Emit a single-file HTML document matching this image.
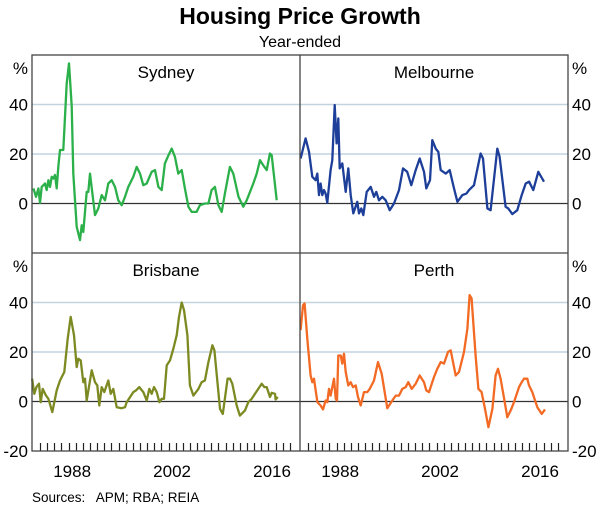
<!DOCTYPE html>
<html><head><meta charset="utf-8"><style>
body{margin:0;background:#fff;}
svg text{font-family:"Liberation Sans",Arial,sans-serif;fill:#000;}
</style></head><body>
<svg id="chart" width="600" height="511" viewBox="0 0 600 511" xmlns="http://www.w3.org/2000/svg">
<text x="300" y="24" font-size="23" font-weight="bold" text-anchor="middle">Housing Price Growth</text>
<text x="300" y="47" font-size="16" text-anchor="middle">Year-ended</text>
<text x="32" y="502" font-size="13.5" style="white-space:pre">Sources:   APM; RBA; REIA</text>
<g id="grid"></g><g id="lines"></g><g id="frame"></g>
</svg>
<script>
const tickYears = [1984,1985,1986,1987,1988,1989,1990,1991,1992,1993,1994,1995,1996,1997,1998,1999,2000,2001,2002,2003,2004,2005,2006,2007,2008,2009,2010,2011,2012,2013,2014,2015,2016,2017,2018,2019];
const xLabels = [1988,2002,2016];
const yTicks = [40,20,0];
const sydT = [1983.07,1983.44,1983.77,1984.0,1984.24,1984.7,1984.94,1985.17,1985.4,1985.64,1985.87,1986.1,1986.34,1986.57,1986.8,1987.27,1987.74,1988.06,1988.44,1988.67,1989.14,1989.6,1989.84,1990.07,1990.54,1990.77,1991.0,1991.7,1992.17,1992.64,1993.1,1993.57,1994.04,1994.5,1994.97,1995.44,1995.9,1996.37,1997.07,1997.54,1998.0,1998.47,1998.94,1999.64,2000.1,2000.58,2001.04,2001.5,2002.0,2002.44,2002.9,2003.37,2003.84,2004.3,2004.78,2005.24,2005.94,2006.4,2007.1,2007.58,2008.04,2008.5,2008.98,2009.45,2009.9,2010.6,2011.08,2011.8,2012.48,2012.95,2013.41,2013.88,2014.35,2014.81,2015.28,2015.75,2016.2,2016.45,2017.15];
const sydV = [6.1,2.7,6.1,0.3,6.7,8.1,5.4,9.4,6.7,10.8,10.1,11.5,6.1,14.8,21.6,21.6,48.5,56.6,39.4,12.1,-9.4,-14.8,-8.8,-11.5,4.7,4.7,12.1,-4.7,-2.0,3.4,1.3,8.1,9.4,6.7,1.3,-0.7,2.7,6.7,10.8,14.8,12.1,7.4,8.1,12.8,13.5,6.7,5.4,16.2,19.5,22.2,18.9,12.1,13.5,6.1,-1.3,-3.4,-3.4,-0.7,0,0,5.4,6.7,-0.7,-3.4,4.0,14.8,12.1,2.7,-1.3,1.3,4.7,8.1,12.1,17.5,15.4,13.5,20.2,19.5,1.3];
const melT = [1982.97,1983.67,1984.14,1984.6,1985.07,1985.3,1985.54,1985.77,1986.0,1986.24,1986.47,1986.7,1987.17,1987.4,1987.74,1988.0,1988.25,1988.44,1988.8,1989.28,1989.65,1989.98,1990.35,1990.9,1991.14,1991.47,1991.75,1992.22,1992.78,1993.25,1993.57,1993.94,1994.4,1994.88,1995.44,1996.05,1996.75,1997.3,1997.9,1998.47,1999.08,1999.64,2000.25,2000.57,2001.09,2001.41,2001.88,2002.25,2002.58,2003.28,2003.84,2004.45,2004.92,2005.62,2006.18,2006.55,2007.25,2008.18,2008.51,2009.12,2009.58,2010.52,2010.84,2011.68,2012.06,2012.62,2013.32,2013.93,2014.49,2014.96,2015.56,2016.26,2017.05];
const melV = [18.2,26.3,20.9,10.8,9.4,12.1,3.4,8.1,3.4,5.4,4.0,0.3,13.5,17.5,39.8,24.3,34.4,14.2,16.2,4.7,14.2,3.4,-4.0,0.7,-4.0,-2.0,-4.7,4.7,6.7,2.7,4.7,1.3,2.7,1.3,-2.7,0,5.4,14.2,12.8,7.4,13.5,18.2,12.8,6.1,9.4,25.6,22.2,20.9,13.5,12.1,13.5,6.1,0.7,3.4,4.0,5.4,7.4,20.2,18.2,-2.0,-2.7,22.2,18.9,-1.3,-2.0,-4.3,-2.7,3.4,8.1,8.8,5.4,12.8,8.8];
const briT = [1982.9,1983.2,1983.5,1983.86,1984.1,1984.38,1984.84,1985.17,1985.73,1986.34,1986.8,1987.41,1987.88,1988.3,1988.76,1989.14,1989.37,1989.7,1990.07,1990.3,1990.54,1991.24,1991.7,1992.03,1992.3,1992.64,1993.0,1993.57,1993.9,1994.27,1994.74,1995.44,1995.9,1996.14,1997.07,1997.45,1997.91,1998.47,1998.94,1999.31,1999.64,1999.97,2000.34,2000.72,2001.04,2001.37,2001.74,2002.21,2002.68,2003.14,2003.47,2003.84,2004.17,2004.64,2005.0,2005.48,2006.18,2006.64,2007.1,2007.58,2008.14,2008.42,2009.21,2009.6,2010.28,2010.61,2010.94,2011.55,2012.0,2012.71,2013.18,2013.65,2014.11,2015.05,2015.42,2015.75,2016.22,2016.45,2016.92,2017.0,2017.3];
const briV = [9.2,3.1,5.8,7.2,-0.3,5.1,2.4,1.1,-4.3,4.5,8.5,11.9,25.4,34.2,26.8,13.9,17.3,16.6,7.8,9.2,0.4,12.6,7.8,6.5,-1.6,5.8,3.8,8.5,3.1,5.1,-2.3,-2.7,-2.3,-0.3,3.8,4.5,5.8,3.8,0.4,5.1,3.1,5.8,3.8,-0.3,1.1,1.1,14.6,16.6,21.4,26.8,34.2,40,36.9,26.8,6.5,2.4,5.1,7.8,8.5,15.9,22.7,20.7,-3.0,-5.0,9.2,9.2,7.2,-1.6,-5.7,-3.6,-0.3,1.1,3.1,7.2,5.8,5.8,1.8,3.5,3.1,0.8,1.8];
const perT = [1982.97,1983.3,1983.53,1983.9,1984.37,1984.6,1984.84,1985.31,1985.77,1986.1,1986.47,1986.7,1986.94,1987.17,1987.64,1987.88,1988.06,1988.25,1988.58,1988.81,1989.04,1989.28,1989.65,1989.98,1990.3,1990.68,1991.0,1991.38,1991.84,1992.31,1992.64,1993.24,1993.8,1994.32,1995.11,1995.81,1996.28,1996.75,1997.21,1997.68,1998.05,1998.52,1999.08,1999.64,2000.25,2000.57,2000.95,2001.65,2002.11,2002.58,2003.05,2003.61,2003.98,2004.68,2005.15,2005.85,2006.32,2006.64,2006.92,2007.48,2007.86,2008.32,2008.79,2009.26,2009.82,2010.28,2010.61,2010.98,2011.59,2011.92,2012.39,2012.85,2013.55,2013.93,2014.25,2014.72,2014.95,2015.42,2016.12,2016.73,2017.19];
const perV = [28.8,38.9,39.6,25.4,10.5,7.8,9.2,-0.3,-1.6,-3.2,0.4,-0.3,5.1,2.4,9.2,1.1,0.4,18.6,18.6,15.3,19.3,11.9,6.5,7.8,5.8,6.5,1.8,-1.6,3.8,3.8,5.1,8.5,15.9,11.2,-2.7,0.4,2.4,2.4,5.1,5.8,7.8,5.1,7.2,10.5,7.8,4.5,3.8,9.9,13.2,15.9,15.3,20.0,20.7,10.5,11.9,20.0,29.5,43.0,41.6,18.6,5.1,3.8,-3.0,-10.4,-3.0,10.5,13.2,9.2,-0.9,-6.4,-3.6,-0.3,5.8,7.8,9.2,9.2,6.5,3.8,-2.3,-5.0,-3.2];

const NS='http://www.w3.org/2000/svg';
const L=32,R=568,M=300,T=55,MID=253,B=451;
const PX=7.14, Y0=1982.88, PY=2.475;
function xs(year,left){return left+(year-Y0)*PX;}
function ys(v,top){return top+(60-v)*PY;}
function mk(tag,attrs,parent){const e=document.createElementNS(NS,tag);for(const k in attrs)e.setAttribute(k,attrs[k]);parent.appendChild(e);return e;}
const grid=document.getElementById('grid'),lines=document.getElementById('lines'),frame=document.getElementById('frame');
const panels=[
 {name:'sydney',title:'Sydney',left:L,top:T,t:sydT,v:sydV,color:'#2bb04a'},
 {name:'melbourne',title:'Melbourne',left:M,top:T,t:melT,v:melV,color:'#1d3f99'},
 {name:'brisbane',title:'Brisbane',left:L,top:MID,t:briT,v:briV,color:'#7d8a22'},
 {name:'perth',title:'Perth',left:M,top:MID,t:perT,v:perV,color:'#f26a24'}];
panels.forEach(p=>{
  const w=268;
  yTicks.forEach(v=>{
    const y=ys(v,p.top);
    const g=mk('line',{x1:p.left,x2:p.left+w,y1:y,y2:y,stroke:v===0?'#333':'#c4d4df','stroke-width':v===0?1.2:1.5},grid);
    
    
  });
  const d=p.t.map((t,i)=>(i?'L':'M')+xs(t,p.left).toFixed(1)+','+ys(p.v[i],p.top).toFixed(1)).join('');
  const path=mk('path',{d:d,fill:'none',stroke:p.color,'stroke-width':2.3,'stroke-linejoin':'round'},lines);
  
  
  const tt=mk('text',{x:p.left+134,y:p.top+23,'font-size':17,'text-anchor':'middle'},frame);
  tt.textContent=p.title;
  
  
  if(p.top===MID){
    tickYears.forEach(yr=>{
      const x=Math.round(xs(yr,p.left))+0.5;
      const tk=mk('line',{x1:x,x2:x,y1:B,y2:B-8,stroke:'#222','stroke-width':1.2},frame);
      
      
    });
    xLabels.forEach(yr=>{
      const lb=mk('text',{x:xs(yr+0.5,p.left),y:B+26,'font-size':17,'text-anchor':'middle'},frame);
      lb.textContent=yr;
      
      
    });
  }
});
[T,MID].forEach(top=>{
  const vals=top===MID?[40,20,0,-20]:[40,20,0];
  [[L-4,'end'],[R+4,'start']].forEach(([x,anc])=>{
    const pc=mk('text',{x:x,y:top+19,'font-size':17,'text-anchor':anc},frame);
    pc.textContent='%';
    
    
    vals.forEach(v=>{
      const t=mk('text',{x:x,y:ys(v,top)+6,'font-size':17,'text-anchor':anc},frame);
      t.textContent=v;
      
      
    });
  });
});
const box=mk('rect',{x:L,y:T,width:R-L,height:B-T,fill:'none',stroke:'#444','stroke-width':1.3},frame);


const vd=mk('line',{x1:M,x2:M,y1:T,y2:B,stroke:'#444','stroke-width':1.3},frame);


const hd=mk('line',{x1:L,x2:R,y1:MID,y2:MID,stroke:'#444','stroke-width':1.3},frame);


</script>
</body></html>
